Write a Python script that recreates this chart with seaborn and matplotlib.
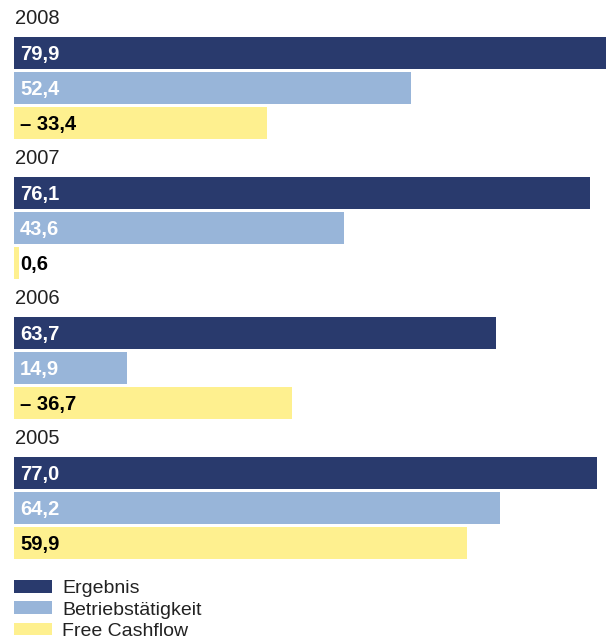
import matplotlib
matplotlib.use("Agg")
import matplotlib.pyplot as plt
import seaborn as sns
import pandas as pd

years = ["2008", "2007", "2006", "2005"]
series = ["Ergebnis", "Betriebstätigkeit", "Free Cashflow"]
ergebnis = [79.9, 76.1, 63.7, 77.0]
betrieb = [52.4, 43.6, 14.9, 64.2]
fcf = [-33.4, 0.6, -36.7, 59.9]
colors = ["#293a6d", "#98b5d9", "#fef08f"]
label_colors = ["white", "white", "black"]

sns.set_theme(style="white")
plt.rcParams["font.family"] = ["Liberation Sans", "DejaVu Sans"]

rows = []
for g, yr in enumerate(years):
    for s, vals in enumerate([ergebnis, betrieb, fcf]):
        v = vals[g]
        rows.append({"year": yr, "series": series[s], "value": v,
                     "length": abs(v), "row": 4 * g + s + 1})
df = pd.DataFrame(rows)

fig = plt.figure(figsize=(6.06, 6.4), dpi=100)
ax = fig.add_axes([14 / 606, 1 - 560.5 / 640, 1 - 14 / 606, 560 / 640])

sns.barplot(data=df, x="length", y="row", hue="series", hue_order=series,
            palette=colors, orient="y", native_scale=True, dodge=False,
            width=0.94, linewidth=0, saturation=1, ax=ax)

ax.set_xlim(0, 592 / 7.57)
ax.set_ylim(15.5, -0.5)
for sp in ax.spines.values():
    sp.set_visible(False)
ax.set_xticks([])
ax.set_yticks([])
ax.set_xlabel("")
ax.set_ylabel("")

def fmt(v):
    s = f"{abs(v):.1f}".replace(".", ",")
    return ("– " + s) if v < 0 else s

for _, r in df.iterrows():
    s = series.index(r["series"])
    ax.annotate(fmt(r["value"]), xy=(0, r["row"]), xytext=(6, 0.5),
                textcoords="offset pixels", ha="left", va="center_baseline",
                fontsize=14.5, fontweight="bold", color=label_colors[s])

for g, yr in enumerate(years):
    ax.annotate(yr, xy=(0, 4 * g), xytext=(1, 1), textcoords="offset pixels",
                ha="left", va="center_baseline", fontsize=14.5, color="#222222")

sns.move_legend(ax, loc="upper left", bbox_to_anchor=(14 / 606, 1 - 580 / 640),
                bbox_transform=fig.transFigure, frameon=False, title=None,
                fontsize=14, handlelength=1.97, handleheight=0.62,
                handletextpad=0.52, labelspacing=0.22, borderpad=0,
                borderaxespad=0)
leg = ax.get_legend()
for t in leg.get_texts():
    t.set_color("#222222")

fig.savefig("out.png", dpi=100)
